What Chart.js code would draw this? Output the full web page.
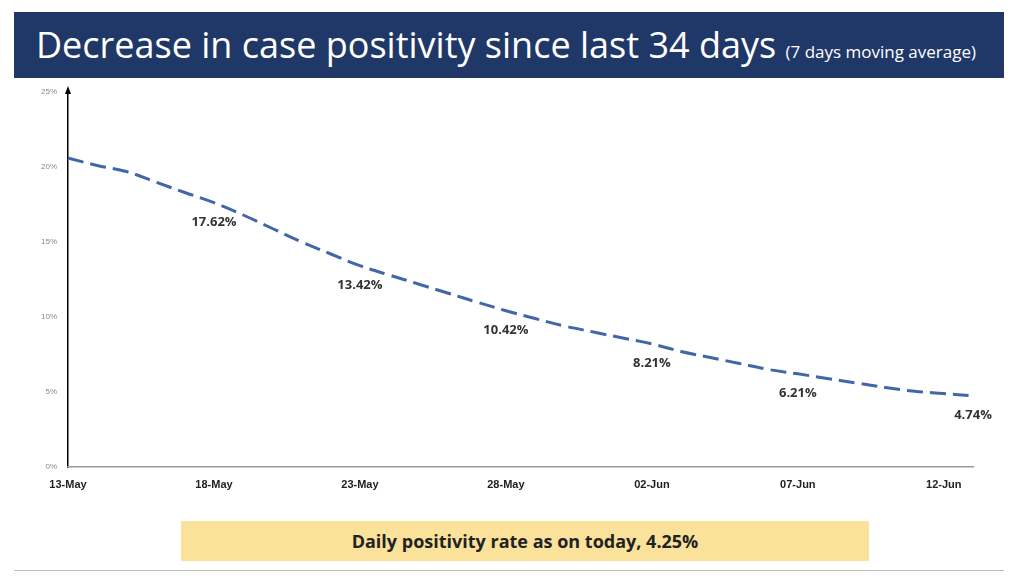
<!DOCTYPE html>
<html>
<head>
<meta charset="utf-8">
<script src="https://cdn.jsdelivr.net/npm/chart.js@4"></script>
<style>
  body { margin: 0; background: #fff; font-family: "Open Sans", "Noto Sans", sans-serif; }
  #wrap { position: relative; width: 1024px; height: 588px; }
  #banner { position: absolute; left: 14px; top: 12px; width: 990px; height: 66px; background: #1f3868;
            color: #fff; font-size: 36px; line-height: 66px; padding-left: 22px; box-sizing: border-box; white-space: nowrap; }
  #banner small { font-size: 17px; }
  #note { position: absolute; left: 181px; top: 521px; width: 688px; height: 40px; background: #fbe29a;
          text-align: center; line-height: 40px; font-weight: bold; font-size: 18px; color: #222; }
  #frame { position: absolute; left: 14px; top: 78px; width: 990px; height: 492px; border-bottom: 1px solid #bbb; }
  canvas { position: absolute; left: 0; top: 0; }
</style>
</head>
<body>
<div id="wrap">
  <div id="frame"></div>
  <canvas id="graph1" width="1024" height="588"></canvas>
  <div id="banner">Decrease in case positivity since last 34 days <small>(7 days moving average)</small></div>
  <div id="note">Daily positivity rate as on today, 4.25%</div>
</div>
<script>
const dias = ['13-May','14-May','15-May','16-May','17-May','18-May','19-May','20-May','21-May','22-May',
  '23-May','24-May','25-May','26-May','27-May','28-May','29-May','30-May','31-May','01-Jun',
  '02-Jun','03-Jun','04-Jun','05-Jun','06-Jun','07-Jun','08-Jun','09-Jun','10-Jun','11-Jun','12-Jun','13-Jun'];
const positividad = [20.6, 20.1, 19.7, 19.0, 18.3, 17.62, 16.8, 15.9, 15.0, 14.2,
  13.42, 12.8, 12.2, 11.6, 11.0, 10.42, 9.9, 9.4, 9.0, 8.6,
  8.21, 7.7, 7.3, 6.9, 6.5, 6.21, 5.9, 5.6, 5.3, 5.05, 4.9, 4.74];
const ticksY = [0, 5, 10, 15, 20, 25];
const conEtiqueta = [5, 10, 15, 20, 25, 31];

// etiquetas de valor
const etiquetas = {
    id: 'etiquetas',
    afterDatasetsDraw(chart) {
        const ctx = chart.ctx;
        const meta = chart.getDatasetMeta(0);
        ctx.save();
        ctx.font = 'bold 13px "Open Sans", sans-serif';
        ctx.fillStyle = '#333';
        ctx.textAlign = 'center';
        conEtiqueta.forEach(i => {
            const pt = meta.data[i];
            ctx.fillText(positividad[i].toFixed(2) + '%', pt.x, pt.y + 23);
        });
        // flecha del eje Y
        const a = chart.chartArea;
        ctx.fillStyle = '#000';
        ctx.beginPath();
        ctx.moveTo(a.left, a.top - 6);
        ctx.lineTo(a.left - 3, a.top + 2);
        ctx.lineTo(a.left + 3, a.top + 2);
        ctx.fill();
        ctx.restore();
    }
};

const chart = new Chart(document.getElementById('graph1').getContext('2d'), {
    type: 'line',
    data: {
        labels: dias,
        datasets: [{
            data: positividad,
            borderColor: '#4167a8',
            borderWidth: 3,
            borderDash: [16, 7],
            tension: 0.4,
            pointRadius: 0
        }]
    },
    options: {
        responsive: false,
        animation: false,
        layout: { padding: { left: 18, right: 51, top: 92, bottom: 91 } },
        plugins: { legend: { display: false }, tooltip: { enabled: false } },
        scales: {
            y: {
                min: 0, max: 25,
                afterFit: s => { s.width = 50; },
                afterBuildTicks: s => { s.ticks = ticksY.map(v => ({ value: v })); },
                grid: { display: false },
                border: { color: '#000', width: 1.5 },
                ticks: { color: '#888', font: { size: 8 }, callback: v => v + '%' }
            },
            x: {
                afterFit: s => { s.height = 30; },
                grid: { display: false },
                border: { color: '#999', width: 1.5 },
                ticks: {
                    autoSkip: false, maxRotation: 0, color: '#222',
                    font: { size: 11, weight: 'bold' },
                    callback: (v, i) => i % 5 === 0 ? dias[i] : ''
                }
            }
        }
    },
    plugins: [etiquetas]
});
</script>
</body>
</html>
